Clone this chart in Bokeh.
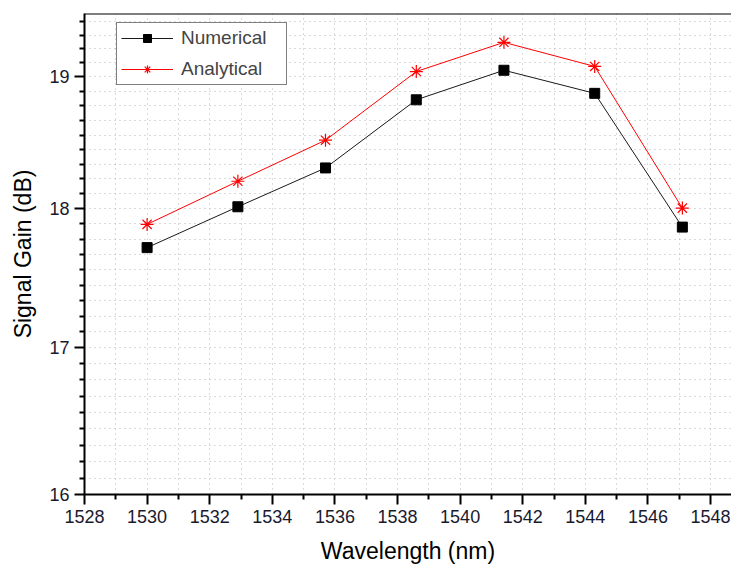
import numpy as np
from bokeh.plotting import figure
from bokeh.models import FixedTicker, PrintfTickFormatter, Legend, LegendItem, Span, Range1d
from bokeh.embed import file_html
from bokeh.resources import INLINE

wavelength = [1530.0, 1532.9, 1535.7, 1538.6, 1541.4, 1544.3, 1547.1]
numerical = [17.71, 18.01, 18.30, 18.82, 19.05, 18.87, 17.86]
analytical = [17.88, 18.20, 18.51, 19.04, 19.27, 19.08, 18.00]

x_major = list(range(1528, 1549, 2))
x_minor = list(range(1529, 1549, 2))
y_major = [16, 17, 18, 19]

FONT = "Liberation Sans"

y_minor = []
for n in [16, 17, 18, 19]:
    a, b = np.log10(n), np.log10(n + 1)
    for k in range(1, 9):
        v = 10 ** (a + k / 9 * (b - a))
        if v <= 19.5:
            y_minor.append(float(v))

p = figure(width=731, height=566, y_axis_type="log",
           x_range=Range1d(1528, 1548.67), y_range=Range1d(16, 19.5),
           output_backend="svg", toolbar_location=None,
           min_border_left=84, min_border_right=0, min_border_top=13, min_border_bottom=72)

p.outline_line_color = None
p.background_fill_color = "white"

for g, ticker in ((p.xgrid, FixedTicker(ticks=x_major, minor_ticks=x_minor)),
                  (p.ygrid, FixedTicker(ticks=y_major, minor_ticks=y_minor))):
    g.ticker = ticker
    g.grid_line_color = "#b4b4b4"
    g.grid_line_dash = "1 4"
    g.grid_line_width = 1
    g.minor_grid_line_color = "#b4b4b4"
    g.minor_grid_line_dash = "1 4"
    g.minor_grid_line_width = 1

p.xaxis.ticker = FixedTicker(ticks=x_major, minor_ticks=x_minor)
p.yaxis.ticker = FixedTicker(ticks=y_major, minor_ticks=y_minor)
p.yaxis.formatter = PrintfTickFormatter(format="%d")

for ax in (p.xaxis, p.yaxis):
    ax.axis_line_width = 2
    ax.axis_line_color = "black"
    ax.major_tick_line_width = 2
    ax.minor_tick_line_width = 2
    ax.major_tick_out = 10
    ax.major_tick_in = 0
    ax.minor_tick_out = 5
    ax.minor_tick_in = 0
    ax.major_label_text_font = FONT
    ax.major_label_text_font_size = "18px"
    ax.major_label_text_color = "#1a1a2e"
    ax.axis_label_text_font = FONT
    ax.axis_label_text_font_size = "23px"
    ax.axis_label_text_font_style = "normal"
    ax.axis_label_text_color = "black"

p.xaxis.axis_label = "Wavelength (nm)"
p.yaxis.axis_label = "Signal Gain (dB)"
p.xaxis.major_label_standoff = 5
p.xaxis.axis_label_standoff = 12
p.yaxis.major_label_standoff = 5
p.yaxis.axis_label_standoff = 10

p.add_layout(Span(location=19.5, dimension="width", line_color="black", line_width=2))

l1 = p.line(wavelength, numerical, line_color="#1a1a1a", line_width=1)
m1 = p.scatter(wavelength, numerical, marker="square", size=10, fill_color="black", line_color="black")
l2 = p.line(wavelength, analytical, line_color="#ff0000", line_width=1)
m2 = p.scatter(wavelength, analytical, marker="asterisk", size=13, line_color="#ff0000", line_width=1.2)

legend = Legend(items=[LegendItem(label="Numerical", renderers=[l1, m1]),
                       LegendItem(label="Analytical", renderers=[l2, m2])],
                location=(32, 409))
legend.label_text_font = FONT
legend.label_text_font_size = "19px"
legend.glyph_width = 52
legend.glyph_height = 20
legend.label_height = 20
legend.label_width = 101
legend.spacing = 9
legend.padding = 4
legend.margin = 0
legend.label_standoff = 8
legend.border_line_color = "black"
legend.border_line_width = 1.5
legend.background_fill_color = "white"
legend.background_fill_alpha = 1
p.add_layout(legend)

open("out.html", "w").write(file_html(p, INLINE))
